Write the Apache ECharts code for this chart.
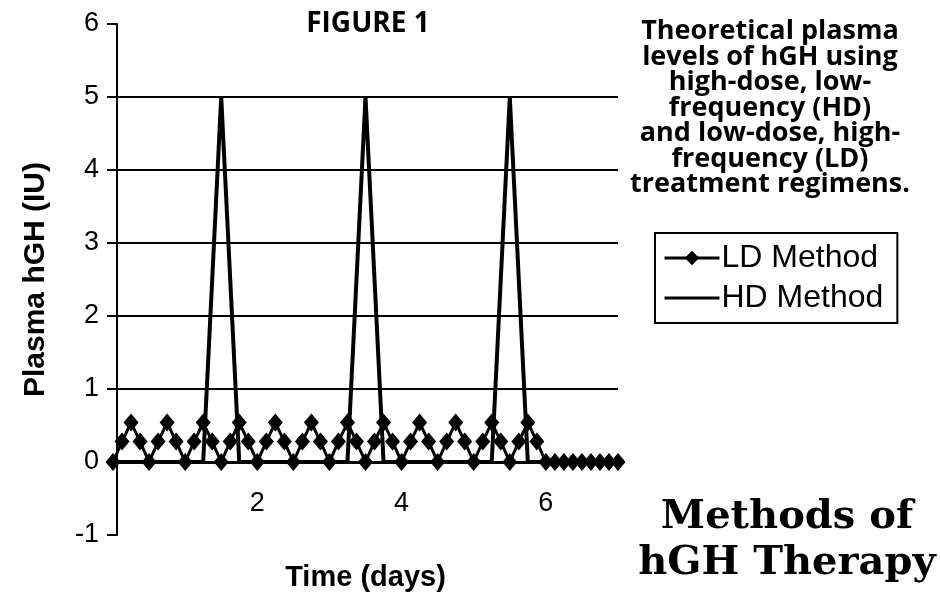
<!DOCTYPE html>
<html>
<head>
<meta charset="utf-8">
<script src="https://cdn.jsdelivr.net/npm/echarts@6/dist/echarts.min.js"></script>
<style>html,body{margin:0;padding:0;background:#fff;}#c{width:940px;height:600px;}</style>
</head>
<body>
<div id="c"></div>
<script>
// ---- data ----
var ldTime = [0, 0.125, 0.25, 0.375, 0.5, 0.625, 0.75, 0.875, 1, 1.125, 1.25, 1.375, 1.5, 1.625, 1.75, 1.875,
  2, 2.125, 2.25, 2.375, 2.5, 2.625, 2.75, 2.875, 3, 3.125, 3.25, 3.375, 3.5, 3.625, 3.75, 3.875,
  4, 4.125, 4.25, 4.375, 4.5, 4.625, 4.75, 4.875, 5, 5.125, 5.25, 5.375, 5.5, 5.625, 5.75, 5.875,
  6, 6.125, 6.25, 6.375, 6.5, 6.625, 6.75, 6.875, 7];
var ldLevel = [0, 0.28, 0.54, 0.28, 0, 0.28, 0.54, 0.28, 0, 0.28, 0.54, 0.28, 0, 0.28, 0.54, 0.28,
  0, 0.28, 0.54, 0.28, 0, 0.28, 0.54, 0.28, 0, 0.28, 0.54, 0.28, 0, 0.28, 0.54, 0.28,
  0, 0.28, 0.54, 0.28, 0, 0.28, 0.54, 0.28, 0, 0.28, 0.54, 0.28, 0, 0.28, 0.54, 0.28,
  0, 0, 0, 0, 0, 0, 0, 0, 0];
var hdTime = [0, 1.25, 1.5, 1.75, 3.25, 3.5, 3.75, 5.25, 5.5, 5.75, 7];
var hdLevel = [0, 0, 5, 0, 0, 5, 0, 0, 5, 0, 0];
var xTickLabels = [2, 4, 6];
var yTickLabels = [-1, 0, 1, 2, 3, 4, 5, 6];
var seriesNames = ['LD Method', 'HD Method'];
var titleText = 'FIGURE 1';
var noteText = 'Theoretical plasma\nlevels of hGH using\nhigh-dose, low-\nfrequency (HD)\nand low-dose, high-\nfrequency (LD)\ntreatment regimens.';
var headline = 'Methods of\nhGH Therapy';
var xName = 'Time (days)';
var yName = 'Plasma hGH (IU)';

function pairs(xs, ys) { return xs.map(function (x, i) { return [x, ys[i]]; }); }

var chart = echarts.init(document.getElementById('c'), null, { renderer: 'canvas' });
var sans = '"Liberation Sans", Arial, sans-serif';
chart.setOption({
  animation: false,
  backgroundColor: '#fff',
  grid: { left: 113, top: 24, width: 505, height: 511, containLabel: false, outerBoundsMode: 'none' },
  xAxis: {
    type: 'value', min: 0, max: 7, interval: 1,
    axisLine: { onZero: true, lineStyle: { color: '#000', width: 3 } },
    axisTick: { show: false },
    splitLine: { show: false },
    axisLabel: {
      margin: -45, color: '#000', fontSize: 27, fontFamily: sans,
      formatter: function (v) { return xTickLabels.indexOf(v) >= 0 ? String(v) : ''; }
    },
    name: xName, nameLocation: 'middle', nameGap: 28,
    nameTextStyle: { color: '#000', fontSize: 29, fontWeight: 'bold', fontFamily: sans }
  },
  yAxis: {
    type: 'value', min: -1, max: 6, interval: 1, offset: -4,
    axisLine: { show: true, onZero: false, lineStyle: { color: '#000', width: 2 } },
    axisTick: { show: true, inside: false, length: 10, lineStyle: { color: '#000', width: 2 } },
    splitLine: { show: true, lineStyle: { width: 2, color: ['rgba(0,0,0,0)', 'rgba(0,0,0,0)', '#000', '#000', '#000', '#000', '#000', 'rgba(0,0,0,0)'] } },
    axisLabel: {
      margin: 18, color: '#000', fontSize: 27, fontFamily: sans,
      formatter: function (v) { return yTickLabels.indexOf(v) >= 0 ? String(v) : ''; }
    },
    name: yName, nameLocation: 'middle', nameGap: 66, nameRotate: 90,
    nameTextStyle: { color: '#000', fontSize: 30, fontWeight: 'bold', fontFamily: sans }
  },
  legend: {
    orient: 'vertical', left: 655, top: 233,
    backgroundColor: '#fff', borderColor: '#000', borderWidth: 2, borderRadius: 0,
    padding: [9, 14, 9, 8], itemGap: 8, itemWidth: 55, itemHeight: 18,
    lineStyle: { width: 3 },
    textStyle: { color: '#000', fontSize: 32, fontFamily: sans, padding: [0, 0, 0, -3] },
    data: [
      { name: seriesNames[0] },
      { name: seriesNames[1], itemStyle: { color: 'rgba(0,0,0,0)', opacity: 0, borderWidth: 0 } }
    ]
  },
  series: [
    {
      name: seriesNames[0], type: 'line', data: pairs(ldTime, ldLevel),
      symbol: 'diamond', symbolSize: [15, 18], showAllSymbol: true,
      lineStyle: { color: '#000', width: 3 }, itemStyle: { color: '#000' }, z: 3
    },
    {
      name: seriesNames[1], type: 'line', data: pairs(hdTime, hdLevel),
      symbol: 'none', lineStyle: { color: '#000', width: 4 }, itemStyle: { color: '#000' }, z: 4
    }
  ],
  graphic: [
    { type: 'text', x: 368, y: 24, style: { text: titleText, fill: '#000', font: 'bold 28px "Open Sans", sans-serif', textAlign: 'center', textVerticalAlign: 'middle' } },
    { type: 'text', x: 770, y: 19, style: { text: noteText, fill: '#000', font: 'bold 27px "Open Sans", sans-serif', textAlign: 'center', textVerticalAlign: 'top', lineHeight: 25.5 } },
    { type: 'text', x: 787, y: 495, style: { text: headline, fill: '#000', font: 'bold 40px "DejaVu Serif", serif', textAlign: 'center', textVerticalAlign: 'top', lineHeight: 46 } }
  ]
});
</script>
</body>
</html>
